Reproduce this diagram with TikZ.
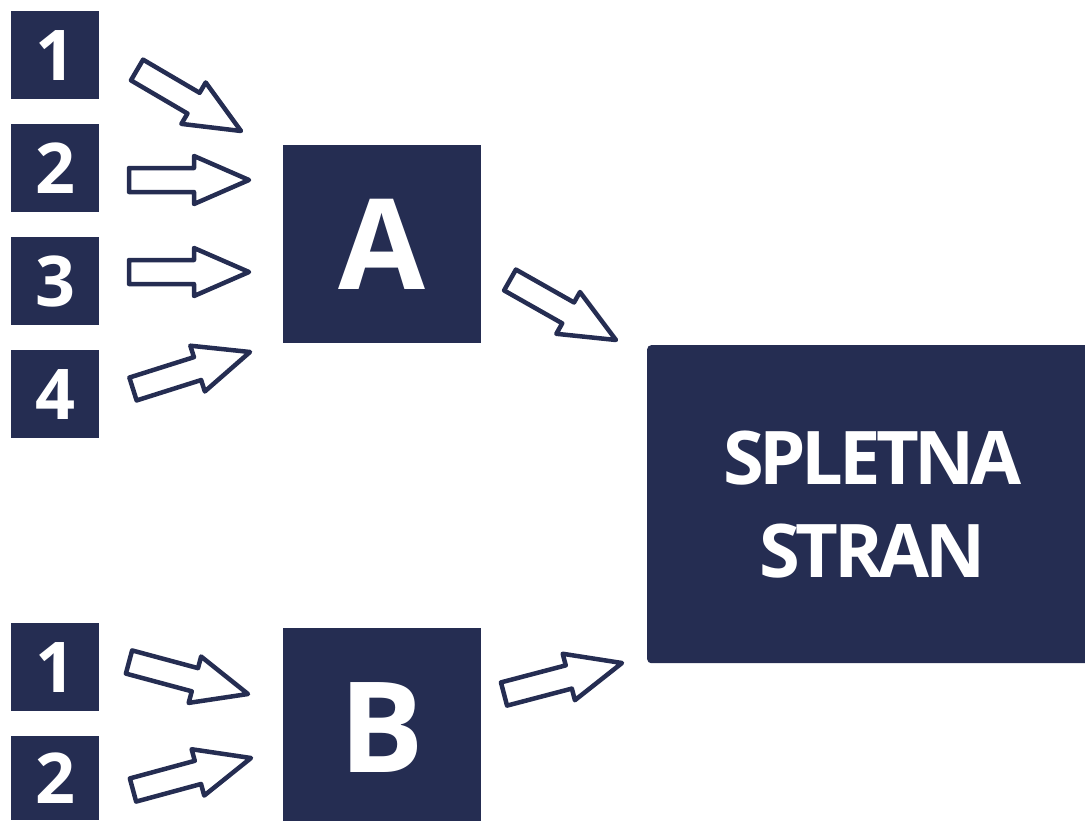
\documentclass[tikz,border=0pt]{standalone}
\usepackage{fontspec}
\setmainfont{Open Sans}
\usetikzlibrary{calc}
\definecolor{navy}{RGB}{37,45,82}
\tikzset{
  box/.style={fill=navy, text=white, font=\bfseries, inner sep=0pt, anchor=north west},
  small/.style={box, minimum width=88pt, minimum height=88pt, font=\bfseries\fontsize{70}{70}\selectfont},
  big/.style={box, minimum width=198pt, minimum height=198pt, font=\bfseries\fontsize{126}{126}\selectfont},
  web/.style={box, minimum width=450pt, minimum height=318pt, rounded corners=4pt, align=center, font=\bfseries\fontsize{74}{93}\selectfont\addfontfeatures{LetterSpace=-6}},
  barrow/.style={draw=navy, fill=white, line width=4.5pt, line join=round}
}
\newcommand\blockarrow[2]{%
  \path ($(#2)!55pt!(#1)$) coordinate (#1m);
  \draw[barrow] ($(#1)!12pt!90:(#2)$) -- ($(#1m)!12pt!90:(#2)$) -- ($(#1m)!24pt!90:(#2)$)
    -- (#2) -- ($(#1m)!24pt!-90:(#2)$) -- ($(#1m)!12pt!-90:(#2)$) -- ($(#1)!12pt!-90:(#2)$) -- cycle;
}
\begin{document}
\begin{tikzpicture}[x=1pt,y=-1pt]
\useasboundingbox (0,0) rectangle (1085,820);
\clip (0,0) rectangle (1085,820);
% boxes
\node[small] (n1) at (11,11) {1};
\node[small] (n2) at (11,124) {2};
\node[small] (n3) at (11,237) {3};
\node[small] (n4) at (11,350) {4};
\node[small] (m1) at (11,623) {1};
\node[small, minimum height=84pt] (m2) at (11,736) {2};
\node[big] (A) at (283,145) {A};
\node[big] (B) at (283,628) {B};
\node[web] (S) at (647,345) {SPLETNA\\STRAN};
% arrow ends
\coordinate (t1) at (137,70);  \coordinate (h1) at (241,131);
\coordinate (t2) at (129,180); \coordinate (h2) at (249,180);
\coordinate (t3) at (129,272); \coordinate (h3) at (249,272);
\coordinate (t4) at (133,389); \coordinate (h4) at (250,352);
\coordinate (tA) at (510,280); \coordinate (hA) at (616,340);
\coordinate (u1) at (129,662); \coordinate (g1) at (248,694);
\coordinate (u2) at (133,790); \coordinate (g2) at (251,758);
\coordinate (tB) at (504,694); \coordinate (hB) at (622,663);
\blockarrow{t1}{h1}
\blockarrow{t2}{h2}
\blockarrow{t3}{h3}
\blockarrow{t4}{h4}
\blockarrow{tA}{hA}
\blockarrow{u1}{g1}
\blockarrow{u2}{g2}
\blockarrow{tB}{hB}
\end{tikzpicture}
\end{document}
